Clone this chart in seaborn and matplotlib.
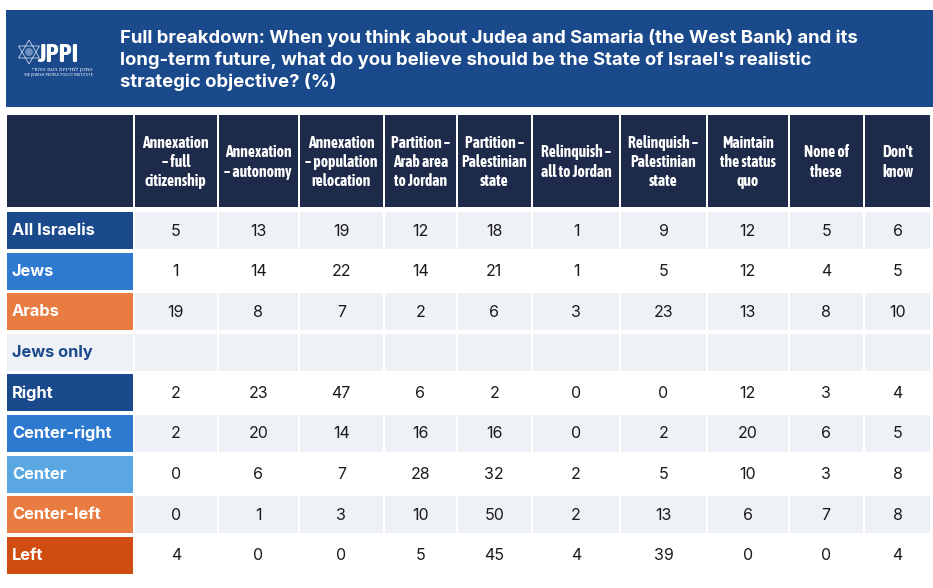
#
# JPPI survey table: realistic strategic objective for Judea and Samaria
#

import matplotlib.pyplot as plt
from matplotlib import font_manager
from matplotlib.patches import Rectangle, Polygon
import seaborn as sns

# ---- data ----
title = ("Full breakdown: When you think about Judea and Samaria (the West Bank) and its\n"
         "long-term future, what do you believe should be the State of Israel's realistic\n"
         "strategic objective? (%)")

columns = [
    "Annexation\n– full\ncitizenship",
    "Annexation\n– autonomy",
    "Annexation\n– population\nrelocation",
    "Partition –\nArab area\nto Jordan",
    "Partition –\nPalestinian\nstate",
    "Relinquish –\nall to Jordan",
    "Relinquish –\nPalestinian\nstate",
    "Maintain\nthe status\nquo",
    "None of\nthese",
    "Don't\nknow",
]

groups = ["All Israelis", "Jews", "Arabs", "Jews only",
          "Right", "Center-right", "Center", "Center-left", "Left"]

all_israelis = [5, 13, 19, 12, 18, 1, 9, 12, 5, 6]
jews = [1, 14, 22, 14, 21, 1, 5, 12, 4, 5]
arabs = [19, 8, 7, 2, 6, 3, 23, 13, 8, 10]
jews_only = None
right = [2, 23, 47, 6, 2, 0, 0, 12, 3, 4]
center_right = [2, 20, 14, 16, 16, 0, 2, 20, 6, 5]
center = [0, 6, 7, 28, 32, 2, 5, 10, 3, 8]
center_left = [0, 1, 3, 10, 50, 2, 13, 6, 7, 8]
left = [4, 0, 0, 5, 45, 4, 39, 0, 0, 4]

rows = [all_israelis, jews, arabs, jews_only, right, center_right,
        center, center_left, left]

# ---- styling ----
BANNER = "#1a4a8c"
HEAD = "#1e2a4a"
STRIPE = "#eef1f6"
label_colors = {
    "All Israelis": "#1b4a8c", "Jews": "#2e7ad1", "Arabs": "#e97c41",
    "Jews only": STRIPE, "Right": "#1b4a8c", "Center-right": "#2e7ad1",
    "Center": "#5aa7e2", "Center-left": "#e97c41", "Left": "#d04c10",
}
striped = [True, False, True, True, False, True, False, True, False]

# Rubik only if static regular/bold cuts are there, otherwise Inter
rubik_w = {f.weight for f in font_manager.fontManager.ttflist if f.name == "Rubik"}
bold_family = ["Rubik", "DejaVu Sans"] if 700 in rubik_w else ["Inter", "DejaVu Sans"]
num_family = ["Rubik", "DejaVu Sans"] if 400 in rubik_w else ["Inter", "DejaVu Sans"]
cond_family = ["Asap Condensed", "DejaVu Sans"]

sns.set_theme(style="white")
plt.rcParams["font.family"] = ["Inter", "DejaVu Sans"]

fig = plt.figure(figsize=(9.33, 5.88), dpi=100)
ax = fig.add_axes([0, 0, 1, 1])
ax.set_xlim(0, 933)
ax.set_ylim(588, 0)
ax.axis("off")

# banner
ax.add_patch(Rectangle((6, 10), 927, 97, color=BANNER, lw=0))
ax.text(120, 60, title, color="white", fontsize=13.35, fontweight="bold",
        va="center", ha="left", linespacing=1.3, family=bold_family)

# logo
star_cx, star_cy, r = 29, 52, 12
for sgn in (1, -1):
    ax.add_patch(Polygon([(star_cx, star_cy - sgn * r),
                          (star_cx - 0.87 * r, star_cy + sgn * 0.5 * r),
                          (star_cx + 0.87 * r, star_cy + sgn * 0.5 * r)], closed=True,
                         fill=False, ec="#c9d6ea", lw=0.6))
ax.add_patch(plt.Circle((star_cx, star_cy), 4, color="#6f8fc0", lw=0))
ax.text(37, 54, "JPPI", color="white", fontsize=19, fontweight="bold",
        va="center", ha="left", family=cond_family)
ax.text(93, 69.5, "המכון למדיניות העם היהודי"[::-1], color="white", fontsize=3.8,
        ha="right", va="center", family=["DejaVu Sans"])
ax.text(93, 75, "THE JEWISH PEOPLE POLICY INSTITUTE", color="white", fontsize=2.6,
        ha="right", va="center", family=["DejaVu Sans"])

# table geometry
x_edges = [6, 133.5, 218, 298.5, 384, 456.5, 532, 620, 707, 788.5, 864, 931]
head_top, head_bot = 115, 207
row_top0, row_pitch, row_h = 212, 40.6, 37
gap = 1.0

head_font = dict(family=cond_family, fontweight="bold", fontsize=11.2, color="white")

for i in range(len(x_edges) - 1):
    x0, x1 = x_edges[i] + gap, x_edges[i + 1] - gap
    ax.add_patch(Rectangle((x0, head_top), x1 - x0, head_bot - head_top, color=HEAD, lw=0))
    if i > 0:
        ax.text((x0 + x1) / 2, (head_top + head_bot) / 2 + 1, columns[i - 1],
                ha="center", va="center", linespacing=1.26, **head_font)

for r_i, (name, vals) in enumerate(zip(groups, rows)):
    y0 = row_top0 + r_i * row_pitch
    yc = y0 + row_h / 2
    bg = STRIPE if striped[r_i] else "white"
    # label cell
    lx0, lx1 = x_edges[0] + gap, x_edges[1] - gap
    ax.add_patch(Rectangle((lx0, y0), lx1 - lx0, row_h, color=label_colors[name], lw=0))
    txt_color = "#1b4a8c" if name == "Jews only" else "white"
    ax.text(lx0 + 5, yc, name, color=txt_color, fontsize=11.8, fontweight="bold",
            ha="left", va="center", family=bold_family)
    for c_i in range(len(columns)):
        x0, x1 = x_edges[c_i + 1] + gap, x_edges[c_i + 2] - gap
        ax.add_patch(Rectangle((x0, y0), x1 - x0, row_h, color=bg, lw=0))
        if vals is not None:
            ax.text((x0 + x1) / 2, yc + 0.5, str(vals[c_i]), color="#1a1a1a",
                    fontsize=11.5, ha="center", va="center", family=num_family)

fig.savefig("out.png", dpi=100)
